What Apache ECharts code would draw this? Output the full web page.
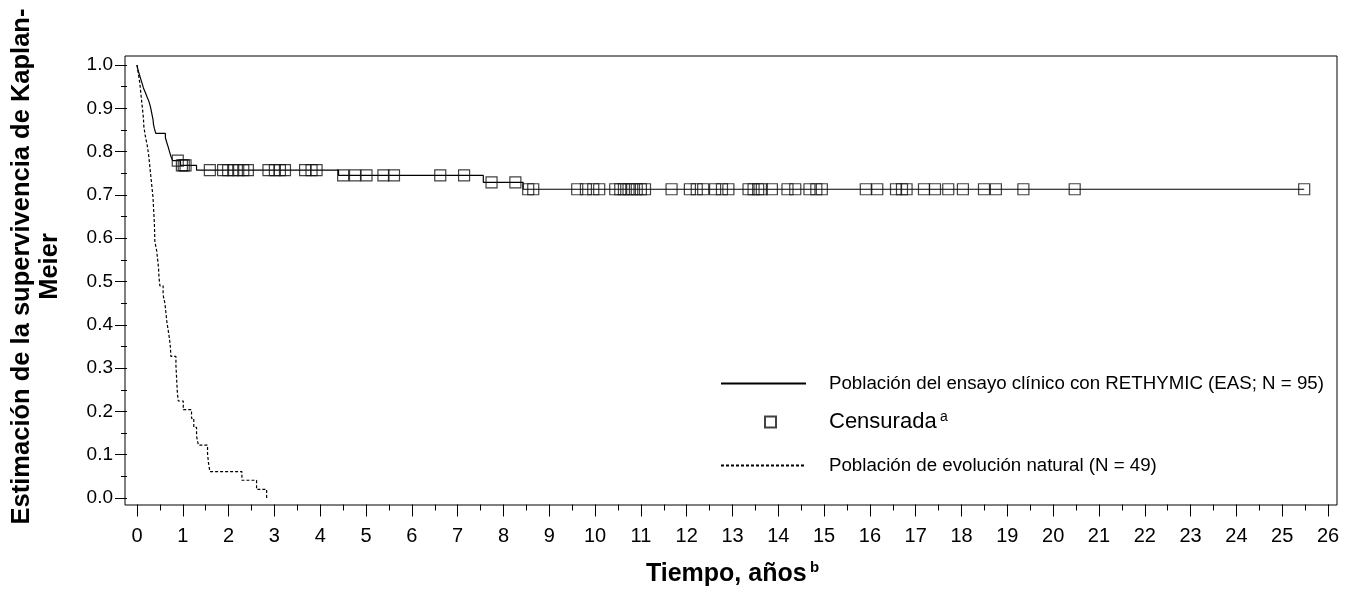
<!DOCTYPE html>
<html><head><meta charset="utf-8">
<script src="https://cdn.jsdelivr.net/npm/echarts@6/dist/echarts.min.js"></script>
<style>html,body{margin:0;padding:0;background:#fff}#c{width:1348px;height:592px}</style>
</head><body><div id="c"></div>
<script>
// ---- Data ----
const easName = 'Población del ensayo clínico con RETHYMIC (EAS; N = 95)';
const nhName = 'Población de evolución natural (N = 49)';
const censorName = 'Censurada';

// EAS Kaplan-Meier step points (years, survival)
const easTimes = [0, 0.02, 0.05, 0.08, 0.11, 0.14, 0.18, 0.22, 0.26, 0.29, 0.31, 0.33, 0.35, 0.36, 0.38, 0.41, 0.62, 0.65, 0.68, 0.71, 0.74, 0.78, 0.95, 1.30, 4.40, 7.56, 8.43, 25.48];
const easSurv  = [1.000, 0.989, 0.979, 0.968, 0.958, 0.947, 0.937, 0.926, 0.916, 0.905, 0.895, 0.884, 0.874, 0.863, 0.853, 0.842, 0.832, 0.821, 0.811, 0.800, 0.789, 0.779, 0.768, 0.757, 0.745, 0.729, 0.713, 0.713];

// Censored observations on the EAS curve
const censorTimes = [0.89, 0.98, 1.02, 1.06,
  1.59, 1.88, 1.99, 2.10, 2.21, 2.32, 2.42, 2.87, 3.01, 3.12, 3.23, 3.67, 3.81, 3.92,
  4.50, 4.76, 5.01, 5.38, 5.61, 6.62, 7.14,
  7.74, 8.26,
  8.54, 8.65, 9.61, 9.80, 9.96, 10.09, 10.44, 10.55, 10.63, 10.73, 10.81, 10.91, 11.00, 11.09, 11.67,
  12.07, 12.22, 12.36, 12.62, 12.77, 12.91, 13.35, 13.46, 13.56, 13.64, 13.86, 14.20, 14.37,
  14.68, 14.83, 14.95, 15.91, 16.16, 16.57, 16.70, 16.80, 17.18, 17.42, 17.71, 18.03, 18.49, 18.75,
  19.35, 20.47, 25.48];
const censorSurv = [0.779, 0.768, 0.768, 0.768,
  0.757, 0.757, 0.757, 0.757, 0.757, 0.757, 0.757, 0.757, 0.757, 0.757, 0.757, 0.757, 0.757, 0.757,
  0.745, 0.745, 0.745, 0.745, 0.745, 0.745, 0.745,
  0.729, 0.729,
  0.713, 0.713, 0.713, 0.713, 0.713, 0.713, 0.713, 0.713, 0.713, 0.713, 0.713, 0.713, 0.713, 0.713, 0.713,
  0.713, 0.713, 0.713, 0.713, 0.713, 0.713, 0.713, 0.713, 0.713, 0.713, 0.713, 0.713, 0.713,
  0.713, 0.713, 0.713, 0.713, 0.713, 0.713, 0.713, 0.713, 0.713, 0.713, 0.713, 0.713, 0.713, 0.713,
  0.713, 0.713, 0.713];

// Natural history Kaplan-Meier step points
const nhTimes = [0, 0.03, 0.06, 0.08, 0.10, 0.12, 0.14, 0.15, 0.18, 0.22, 0.25, 0.27, 0.29, 0.31, 0.33, 0.35, 0.36, 0.37, 0.38, 0.385, 0.39, 0.43, 0.45, 0.47, 0.48, 0.50, 0.57, 0.61, 0.63, 0.65, 0.68, 0.71, 0.73, 0.74, 0.85, 0.86, 0.87, 0.88, 0.90, 1.01, 1.19, 1.24, 1.30, 1.34, 1.54, 1.56, 1.59, 2.29, 2.61, 2.83];
const nhSurv  = [1.000, 0.980, 0.959, 0.939, 0.918, 0.898, 0.878, 0.857, 0.837, 0.816, 0.796, 0.776, 0.755, 0.735, 0.714, 0.694, 0.673, 0.653, 0.633, 0.612, 0.592, 0.571, 0.551, 0.531, 0.510, 0.490, 0.469, 0.449, 0.429, 0.408, 0.388, 0.367, 0.347, 0.327, 0.306, 0.286, 0.265, 0.245, 0.224, 0.204, 0.184, 0.163, 0.143, 0.122, 0.102, 0.082, 0.061, 0.041, 0.020, 0.000];

// Axis ranges / ticks
const xMin = 0, xMax = 26, xStep = 1;
const yMin = 0, yMax = 1, yStep = 0.1;
const yTitle = 'Estimación de la supervivencia de Kaplan-\nMeier';
const xTitle = 'Tiempo, años';
const xTitleSup = 'b';
const censorSup = 'a';

// ---- Chart ----
const FONT = '"Liberation Sans", Arial, sans-serif';
const zip = (a, b) => a.map((v, i) => [v, b[i]]);
const hiddenValue = (g, min, max) => ({gridIndex: g, type: 'value', min: min, max: max, show: false});
const tickStyle = {color: '#000', width: 1};

const chart = echarts.init(document.getElementById('c'), null, {renderer: 'canvas'});
chart.setOption({
  animation: false,
  backgroundColor: '#fff',
  textStyle: {fontFamily: FONT, color: '#000'},
  grid: [
    // 0: plot frame
    {left: 125, right: 11, top: 56, bottom: 87, show: true, borderColor: '#000', borderWidth: 1, backgroundColor: 'transparent'},
    // 1: data area (x 0..26, y 0..1)
    {left: 137, right: 20, top: 65, bottom: 94},
    // 2: y tick axis (sits on the frame's left edge)
    {left: 125, right: 20, top: 65, bottom: 94},
    // 3: x tick axis (hangs just below the frame)
    {left: 137, right: 20, top: 65, bottom: 84}
  ],
  xAxis: [
    hiddenValue(0, 0, 1),
    hiddenValue(1, xMin, xMax),
    hiddenValue(2, 0, 1),
    {gridIndex: 3, type: 'value', min: xMin, max: xMax, interval: xStep, position: 'bottom',
     axisLine: {show: false},
     axisTick: {show: true, length: 12, lineStyle: tickStyle},
     minorTick: {show: true, splitNumber: 2, length: 6, lineStyle: tickStyle},
     splitLine: {show: false}, minorSplitLine: {show: false},
     axisLabel: {fontSize: 20, color: '#000', margin: 22, fontFamily: FONT},
     name: '{t|' + xTitle + '} {s|' + xTitleSup + '}', nameLocation: 'middle', nameGap: 56,
     nameTextStyle: {rich: {
       t: {fontSize: 25, fontWeight: 'bold', fontFamily: FONT, color: '#000', lineHeight: 28},
       s: {fontSize: 15, fontWeight: 'bold', fontFamily: FONT, color: '#000', verticalAlign: 'top', lineHeight: 16}
     }}
    }
  ],
  yAxis: [
    hiddenValue(0, 0, 1),
    hiddenValue(1, yMin, yMax),
    {gridIndex: 2, type: 'value', min: yMin, max: yMax, interval: yStep, position: 'left',
     axisLine: {show: false},
     axisTick: {show: true, length: 12, lineStyle: tickStyle},
     minorTick: {show: true, splitNumber: 2, length: 6, lineStyle: tickStyle},
     splitLine: {show: false}, minorSplitLine: {show: false},
     axisLabel: {fontSize: 19, color: '#000', margin: 14, fontFamily: FONT, formatter: v => v.toFixed(1)},
     name: yTitle, nameLocation: 'middle', nameGap: 63, nameRotate: 90,
     nameTextStyle: {fontSize: 25.5, fontWeight: 'bold', fontFamily: FONT, color: '#000', lineHeight: 28,
                     padding: [0, 0, 0, 30]}
    },
    hiddenValue(3, 0, 1)
  ],
  legend: [
    {data: [easName], left: 720, top: 374, padding: 0, itemWidth: 85, itemHeight: 14, selectedMode: false,
     itemStyle: {opacity: 0},
     textStyle: {fontSize: 18.7, fontFamily: FONT, color: '#000', padding: [0, 0, 0, 18]}},
    {data: [censorName], left: 764, top: 410, padding: 0, itemWidth: 11, itemHeight: 11, selectedMode: false,
     formatter: '{t|' + censorName + '} {s|' + censorSup + '}',
     textStyle: {padding: [0, 0, 0, 48], rich: {
       t: {fontSize: 22, fontFamily: FONT, color: '#000', lineHeight: 24},
       s: {fontSize: 14, fontFamily: FONT, color: '#000', verticalAlign: 'top', lineHeight: 14}
     }}},
    {data: [nhName], left: 720, top: 456, padding: 0, itemWidth: 85, itemHeight: 14, selectedMode: false,
     itemStyle: {opacity: 0},
     textStyle: {fontSize: 18.7, fontFamily: FONT, color: '#000', padding: [0, 0, 0, 18]}}
  ],
  series: [
    {name: easName, type: 'line', xAxisIndex: 1, yAxisIndex: 1, step: 'end', symbol: 'none',
     data: zip(easTimes, easSurv), lineStyle: {color: '#000', width: 1.2},
     itemStyle: {color: 'rgba(0,0,0,0)'}, z: 3},
    {name: censorName, type: 'scatter', xAxisIndex: 1, yAxisIndex: 1, symbol: 'rect', symbolSize: 11,
     data: zip(censorTimes, censorSurv),
     itemStyle: {color: 'rgba(255,255,255,0)', borderColor: '#111', borderWidth: 1.2}, z: 4},
    {name: nhName, type: 'line', xAxisIndex: 1, yAxisIndex: 1, step: 'end', symbol: 'none',
     data: zip(nhTimes, nhSurv), lineStyle: {color: '#000', width: 1.2, type: [3, 2]},
     itemStyle: {color: 'rgba(0,0,0,0)'}, z: 3}
  ]
});
</script></body></html>
